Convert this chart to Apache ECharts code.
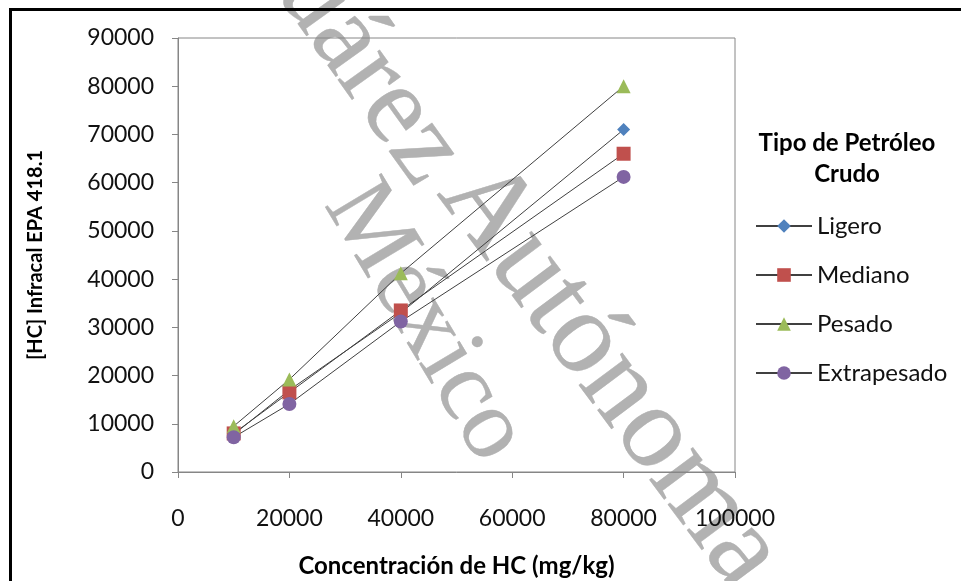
<!DOCTYPE html>
<html>
<head>
<meta charset="utf-8">
<script src="https://cdn.jsdelivr.net/npm/echarts@6/dist/echarts.min.js"></script>
<style>
  html, body { margin: 0; padding: 0; background: #fff; }
  #chart { width: 961px; height: 581px; }
</style>
</head>
<body>
<div id="chart"></div>
<script>
// concentraciones (mg/kg) y lecturas Infracal por tipo de crudo
const concentraciones = [10000, 20000, 40000, 80000]
const ligero = [7800, 17000, 33000, 71000]
const mediano = [8000, 16500, 33500, 66000]
const pesado = [9500, 19200, 41200, 80000]
const extrapesado = [7200, 14100, 31200, 61200]

const nombres = ['Ligero', 'Mediano', 'Pesado', 'Extrapesado']
const xTicks = [0, 20000, 40000, 60000, 80000, 100000]
const yTicks = [0, 10000, 20000, 30000, 40000, 50000, 60000, 70000, 80000, 90000]

const font = 'Lato, "Open Sans", sans-serif'
const axisGray = '#868686'
const lineGray = '#404040'
const serif = '"Liberation Serif", "DejaVu Serif", serif'

const pares = (ys) => concentraciones.map((x, i) => [x, ys[i]])

const chart = echarts.init(document.getElementById('chart'))

const makeSeries = (name, ys, symbol, size, color) => ({
  name,
  type: 'line',
  data: pares(ys),
  symbol,
  symbolSize: size,
  showAllSymbol: true,
  lineStyle: { color: lineGray, width: 1 },
  itemStyle: { color, opacity: 1 },
  emphasis: { disabled: true },
  animation: false
})

const marca = (text, x, y, rot, size, align) => ({
  type: 'text',
  z: -10,
  silent: true,
  x, y,
  rotation: rot,
  style: {
    text,
    font: size + 'px ' + serif,
    fill: 'rgba(170,170,170,0.9)',
    stroke: 'rgba(120,120,120,0.5)',
    lineWidth: 0.5,
    align,
    verticalAlign: 'middle'
  }
})

const option = {
  backgroundColor: '#fff',
  animation: false,
  textStyle: { fontFamily: font },
  title: {
    text: 'Tipo de Petróleo\nCrudo',
    left: 842,
    top: 123,
    textAlign: 'center',
    textStyle: {
      fontFamily: font,
      fontSize: 24,
      fontWeight: 'bold',
      color: '#000',
      lineHeight: 31
    }
  },
  legend: {
    data: nombres,
    orient: 'vertical',
    left: 750,
    top: 207,
    itemWidth: 56,
    itemHeight: 17,
    itemGap: 21,
    textStyle: { fontFamily: font, fontSize: 24, color: '#111', lineHeight: 28 },
    selectedMode: false
  },
  grid: {
    left: 178,
    right: 226,
    top: 38,
    bottom: 109,
    outerBoundsMode: 'none',
    show: true,
    borderColor: axisGray,
    borderWidth: 1,
    backgroundColor: 'transparent'
  },
  xAxis: {
    type: 'value',
    min: xTicks[0],
    max: xTicks[xTicks.length - 1],
    interval: xTicks[1] - xTicks[0],
    name: 'Concentración de HC (mg/kg)',
    nameLocation: 'middle',
    nameGap: 82,
    nameTextStyle: { fontFamily: font, fontSize: 24, fontWeight: 'bold', color: '#000' },
    axisLine: { show: true, lineStyle: { color: axisGray, width: 1 } },
    axisTick: { show: true, length: 6, lineStyle: { color: axisGray } },
    axisLabel: { margin: 35, fontSize: 23, color: '#111', fontFamily: font, formatter: (v) => String(v) },
    splitLine: { show: false }
  },
  yAxis: {
    type: 'value',
    min: yTicks[0],
    max: yTicks[yTicks.length - 1],
    interval: yTicks[1] - yTicks[0],
    name: '[HC] Infracal EPA 418.1',
    nameLocation: 'middle',
    nameGap: 132,
    nameTextStyle: { fontFamily: font, fontSize: 20, fontWeight: 'bold', color: '#000' },
    axisLine: { show: true, lineStyle: { color: axisGray, width: 1 } },
    axisTick: { show: true, length: 6, lineStyle: { color: axisGray } },
    axisLabel: { margin: 24, fontSize: 23, color: '#111', fontFamily: font, formatter: (v) => String(v) },
    splitLine: { show: false }
  },
  graphic: [
    marca('México', 425, 322, -1.03, 100, 'center'),
    marca('Autónoma', 610, 375, -0.93, 118, 'center'),
    marca('Juárez', 440, 172, -0.95, 112, 'right'),
    {
      type: 'rect',
      z: 100,
      silent: true,
      shape: { x: 10.5, y: 9.5, width: 1200, height: 1200 },
      style: { fill: 'none', stroke: '#000', lineWidth: 3 }
    }
  ],
  series: [
    makeSeries(nombres[0], ligero, 'diamond', [13, 13], '#4F81BD'),
    makeSeries(nombres[1], mediano, 'rect', 14, '#C0504D'),
    makeSeries(nombres[2], pesado, 'triangle', 14, '#9BBB59'),
    makeSeries(nombres[3], extrapesado, 'circle', 14, '#8064A2')
  ]
}

chart.setOption(option)
</script>
</body>
</html>
